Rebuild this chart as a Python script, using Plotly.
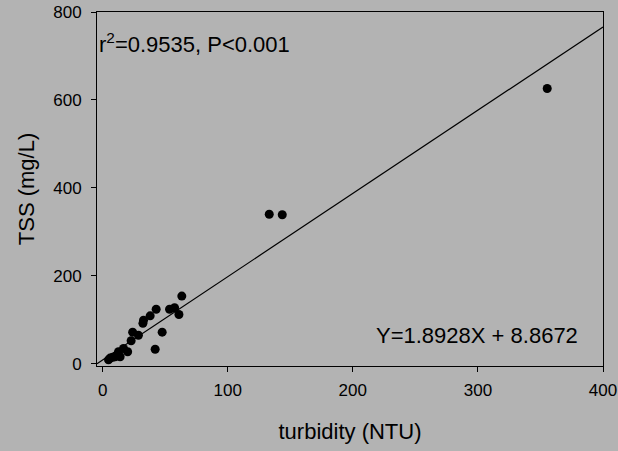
import plotly.graph_objects as go

# Turbidity (NTU) vs total suspended solids (mg/L)
turbidity = [4.7, 6, 8, 10, 12, 14, 12.7, 16.7, 20, 22.8, 24, 28.6, 32.2, 32.7,
             38, 42.8, 42, 47.6, 53.5, 57.5, 61, 63.3, 133.2, 143.6, 355.4]
tss = [9, 13, 15, 16, 22, 16, 27.5, 35, 27.5, 52.5, 72, 65, 92, 99,
       109, 124, 33, 72, 124, 127.5, 112, 154, 340, 339, 626]

# Linear fit reported on the chart
slope = 1.8928
intercept = 8.8672
r_squared = "0.9535"

x_range = [-4.5, 400]
y_range = [-5, 800]
x_ticks = [0, 100, 200, 300, 400]
y_ticks = [0, 200, 400, 600, 800]

bg = "#b3b3b3"
font_family = "Liberation Sans, Arial, sans-serif"

fit_x = [x_range[0], x_range[1]]
fit_y = [slope * v + intercept for v in fit_x]

fig = go.Figure()
fig.add_trace(go.Scatter(x=fit_x, y=fit_y, mode="lines",
                         line=dict(color="black", width=1.2),
                         showlegend=False, hoverinfo="skip"))
fig.add_trace(go.Scatter(x=turbidity, y=tss, mode="markers",
                         marker=dict(color="black", size=9, line=dict(width=0)),
                         showlegend=False))

axis_common = dict(showgrid=False, zeroline=False, showline=True,
                   linecolor="black", linewidth=1, mirror=True,
                   ticks="outside", ticklen=5, tickwidth=1, tickcolor="black",
                   automargin=False,
                   tickfont=dict(size=17, color="black", family=font_family))

fig.update_xaxes(range=x_range, tickvals=x_ticks, ticklabelstandoff=4,
                 title=dict(text="turbidity (NTU)", standoff=24,
                            font=dict(size=22, color="black", family=font_family)),
                 **axis_common)
fig.update_yaxes(range=y_range, tickvals=y_ticks, ticklabelstandoff=6,
                 title=dict(text="TSS (mg/L)", standoff=12,
                            font=dict(size=22, color="black", family=font_family)),
                 **axis_common)

fig.add_annotation(x=0, y=0.912, xref="paper", yref="paper",
                   xanchor="left", yanchor="middle", showarrow=False,
                   text=f"r<sup>2</sup>={r_squared}, P&lt;0.001",
                   font=dict(size=22, color="black", family=font_family))
fig.add_annotation(x=0.547, y=0.085, xref="paper", yref="paper",
                   xanchor="left", yanchor="middle", showarrow=False,
                   text=f"Y={slope}X + {intercept}",
                   font=dict(size=22, color="black", family=font_family))

fig.update_layout(width=618, height=451,
                  margin=dict(l=97, r=15, t=12, b=85),
                  paper_bgcolor=bg, plot_bgcolor=bg,
                  font=dict(family=font_family, color="black"))

fig.write_html("out.html")
